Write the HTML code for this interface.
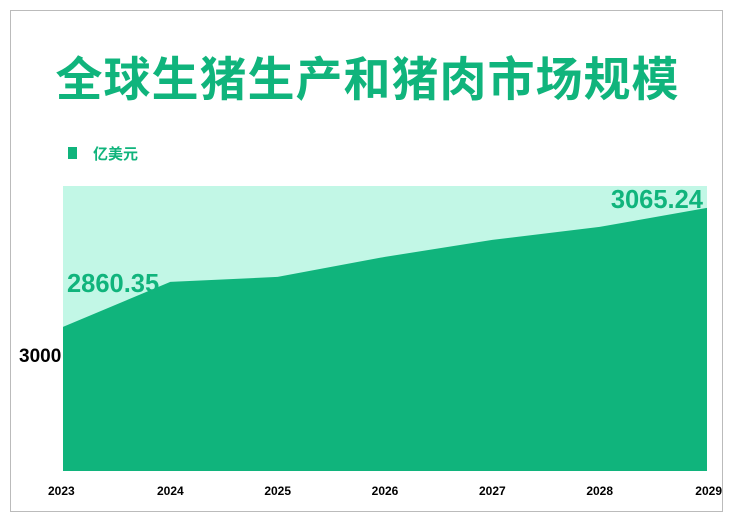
<!DOCTYPE html>
<html><head><meta charset="utf-8"><style>
body{margin:0;width:735px;height:524px;background:#fff;font-family:"Liberation Sans","Noto Sans CJK SC",sans-serif;overflow:hidden}
#frame{position:absolute;left:10px;top:10px;width:713px;height:502px;border:1px solid #bbb;box-sizing:border-box}
#title{position:absolute;left:0;width:735px;top:41px;text-align:center;font-size:47px;font-weight:bold;color:#10b47c;letter-spacing:1px}
</style></head><body>
<div id="frame"></div>
<div id="title">全球生猪生产和猪肉市场规模</div>
<svg width="735" height="524" style="position:absolute;left:0;top:0">
<g>
<rect x="68" y="147" width="9" height="12" fill="#10b47c"/>
<text x="93" y="159" font-size="15" font-weight="bold" fill="#10b47c" font-family="Liberation Sans,Noto Sans CJK SC,sans-serif">亿美元</text>
</g>
<rect x="63" y="186" width="644" height="285" fill="#c2f7e6"/>
<g id="area"></g><g id="xt"></g>
<text x="19" y="362" font-size="19" font-weight="bold" fill="#000" font-family="Liberation Sans,sans-serif">3000</text>
</svg>
<script>
const years=["2023","2024","2025","2026","2027","2028","2029"];
const values=[2860.35,2937.8,2946.4,2980.9,3010.1,3032.5,3065.24];
const labelIdx=[0,6];
const yMin=2612,yMax=3103;
const x=i=>63+i*(644/(years.length-1));
const y=v=>471-(v-yMin)/(yMax-yMin)*285;
const NS="http://www.w3.org/2000/svg";
let d="M"+x(0)+",471";values.forEach((v,i)=>d+=" L"+x(i)+","+y(v));d+=" L"+x(values.length-1)+",471 Z";
const p=document.createElementNS(NS,"path");p.setAttribute("d",d);p.setAttribute("fill","#10b47c");


document.getElementById("area").appendChild(p);
years.forEach((yr,i)=>{const t=document.createElementNS(NS,"text");t.setAttribute("y",495);
t.setAttribute("text-anchor",i==0?"start":(i==years.length-1?"end":"middle"));
t.setAttribute("x",i==0?48:(i==years.length-1?722:x(i)));
t.setAttribute("font-size","12");t.setAttribute("font-weight","bold");t.setAttribute("font-family","Liberation Sans,sans-serif");t.textContent=yr;


document.getElementById("xt").appendChild(t);});
labelIdx.forEach(i=>{const t=document.createElementNS(NS,"text");const last=i==values.length-1;
t.setAttribute("x",last?x(i)-4:x(i)+4);t.setAttribute("y",last?y(values[i])-0:y(values[i])-35);
t.setAttribute("text-anchor",last?"end":"start");t.setAttribute("font-size","25.5");t.setAttribute("font-weight","bold");
t.setAttribute("fill","#10b47c");t.setAttribute("font-family","Liberation Sans,sans-serif");t.textContent=values[i].toFixed(2);


document.getElementById("xt").appendChild(t);});
</script>
</body></html>
